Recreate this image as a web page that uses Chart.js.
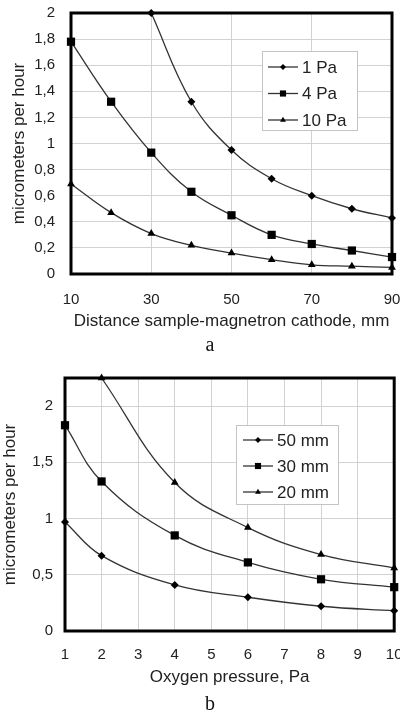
<!DOCTYPE html>
<html>
<head>
<meta charset="utf-8">
<script src="https://cdn.jsdelivr.net/npm/chart.js@4/dist/chart.umd.min.js"></script>
<style>
  html, body { margin: 0; padding: 0; background: #fff; }
  body { position: relative; width: 400px; height: 713px; overflow: hidden; }
  .panel { position: absolute; left: 0; width: 400px; }
  .caption {
    position: absolute; left: 0; width: 420px; text-align: center;
    font-family: "Liberation Serif", "Times New Roman", serif;
    font-size: 20px; line-height: 20px; color: #111;
  }
</style>
</head>
<body>
<div class="panel" style="top:0;height:334px"><canvas id="chart-distance" width="400" height="334"></canvas></div>
<div class="caption" style="top:334px">a</div>
<div class="panel" style="top:350px;height:340px"><canvas id="chart-pressure" width="400" height="340"></canvas></div>
<div class="caption" style="top:693px">b</div>

<script>
// panel a: deposition rate vs distance
const distances = [10, 20, 30, 40, 50, 60, 70, 80, 90];
const rate1Pa = [null, null, 2.0, 1.32, 0.95, 0.73, 0.6, 0.5, 0.43];
const rate4Pa = [1.78, 1.32, 0.93, 0.63, 0.45, 0.3, 0.23, 0.18, 0.13];
const rate10Pa = [0.69, 0.47, 0.31, 0.22, 0.16, 0.11, 0.07, 0.06, 0.05];
const xTicksA = [10, 30, 50, 70, 90];
const yTicksA = [0, 0.2, 0.4, 0.6, 0.8, 1, 1.2, 1.4, 1.6, 1.8, 2];

// panel b: deposition rate vs oxygen pressure
const pressures = [1, 2, 4, 6, 8, 10];
const rate50mm = [0.97, 0.67, 0.41, 0.3, 0.22, 0.18];
const rate30mm = [1.83, 1.33, 0.85, 0.61, 0.46, 0.39];
const rate20mm = [null, 2.25, 1.32, 0.92, 0.68, 0.56];
const xTicksB = [1, 2, 3, 4, 5, 6, 7, 8, 9, 10];
const yTicksB = [0, 0.5, 1, 1.5, 2];

Chart.defaults.font.family = "'Liberation Sans', Arial, sans-serif";
Chart.defaults.color = "#222";

const toPoints = (xs, ys) => xs.map((x, i) => ({ x: x, y: ys[i] }));
const comma = (v) => String(v).replace(".", ",");

// thick black frame around the plot area, under the markers
const framePlugin = {
  id: "frame",
  beforeDatasetsDraw(chart) {
    const a = chart.chartArea;
    const ctx = chart.ctx;
    ctx.save();
    ctx.strokeStyle = "#000";
    ctx.lineWidth = 3;
    ctx.strokeRect(a.left, a.top, a.right - a.left, a.bottom - a.top);
    ctx.restore();
  },
};

// boxed legend sitting inside the plot
const boxLegend = {
  id: "boxLegend",
  afterDatasetsDraw(chart, args, opts) {
    const ctx = chart.ctx;
    const left = opts.left, top = opts.top;
    ctx.save();
    ctx.fillStyle = "#fff";
    ctx.fillRect(left, top, opts.width, opts.height);
    ctx.strokeStyle = "#c4c4c4";
    ctx.lineWidth = 1;
    ctx.strokeRect(left + 0.5, top + 0.5, opts.width, opts.height);
    ctx.font = "17px 'Liberation Sans', Arial, sans-serif";
    ctx.textBaseline = "middle";
    chart.data.datasets.forEach(function (ds, i) {
      const y = top + opts.firstRow + i * opts.rowGap;
      const x0 = left + opts.lineStart;
      ctx.strokeStyle = ds.borderColor;
      ctx.lineWidth = ds.borderWidth;
      ctx.beginPath();
      ctx.moveTo(x0, y);
      ctx.lineTo(x0 + opts.lineLen, y);
      ctx.stroke();
      ctx.fillStyle = "#000";
      Chart.helpers.drawPoint(
        ctx,
        { pointStyle: ds.pointStyle, radius: ds.pointRadius * 0.75, borderWidth: 0, rotation: 0 },
        x0 + opts.lineLen / 2,
        y
      );
      ctx.fillStyle = "#222";
      ctx.fillText(ds.label, x0 + opts.lineLen + 4, y + 1);
    });
    ctx.restore();
  },
};

function series(label, pts, style, radius) {
  return {
    label: label,
    data: pts,
    borderColor: "#333",
    borderWidth: 1.3,
    pointStyle: style,
    pointRadius: radius,
    pointBackgroundColor: "#000",
    pointBorderColor: "#000",
    pointBorderWidth: 0,
    tension: 0.4,
    clip: false,
    spanGaps: false,
  };
}

function makeScales(cfg) {
  return {
    x: {
      type: "linear",
      min: cfg.xMin,
      max: cfg.xMax,
      afterBuildTicks: (s) => { s.ticks = cfg.xTicks.map((v) => ({ value: v })); },
      afterFit: (s) => { s.height = cfg.xHeight; s.paddingLeft = 0; s.paddingRight = 0; },
      grid: { color: "#d2d2d2", drawTicks: false },
      border: { display: false },
      ticks: { font: { size: 15 }, padding: cfg.xTickPad, maxRotation: 0, autoSkip: false, color: "#222" },
      title: { display: true, text: cfg.xTitle, font: { size: 17 }, padding: { top: 0, bottom: 2 }, color: "#222" },
    },
    y: {
      min: 0,
      max: cfg.yMax,
      afterBuildTicks: (s) => { s.ticks = cfg.yTicks.map((v) => ({ value: v })); },
      afterFit: (s) => { s.width = cfg.yWidth; s.paddingTop = 0; s.paddingBottom = 0; },
      grid: { color: "#d2d2d2", drawTicks: false },
      border: { display: false },
      ticks: { font: { size: 15 }, padding: cfg.yTickPad, callback: (v) => comma(v), color: "#222" },
      title: { display: true, text: "micrometers per hour", font: { size: 17 }, padding: { top: cfg.yTitlePad, bottom: 0 }, color: "#222" },
    },
  };
}

document.addEventListener("DOMContentLoaded", function () {
  new Chart(document.getElementById("chart-distance").getContext("2d"), {
    type: "line",
    data: {
      datasets: [
        series("1 Pa", toPoints(distances, rate1Pa), "rectRot", 4),
        series("4 Pa", toPoints(distances, rate4Pa), "rect", 5.8),
        series("10 Pa", toPoints(distances, rate10Pa), "triangle", 4.5),
      ],
    },
    options: {
      responsive: false,
      animation: false,
      layout: { padding: { top: 13, right: 8, left: 0, bottom: 0 } },
      plugins: {
        legend: { display: false },
        tooltip: { enabled: false },
        boxLegend: { left: 262, top: 51, width: 95, height: 79, firstRow: 16, rowGap: 26.5, lineStart: 6, lineLen: 30 },
      },
      scales: makeScales({
        xMin: 10, xMax: 90, xTicks: xTicksA, xHeight: 60, xTickPad: 17,
        xTitle: "Distance sample-magnetron cathode, mm",
        yMax: 2, yTicks: yTicksA, yWidth: 71, yTickPad: 16, yTitlePad: 9,
      }),
    },
    plugins: [framePlugin, boxLegend],
  });

  new Chart(document.getElementById("chart-pressure").getContext("2d"), {
    type: "line",
    data: {
      datasets: [
        series("50 mm", toPoints(pressures, rate50mm), "rectRot", 4),
        series("30 mm", toPoints(pressures, rate30mm), "rect", 5.8),
        series("20 mm", toPoints(pressures, rate20mm), "triangle", 4.5),
      ],
    },
    options: {
      responsive: false,
      animation: false,
      layout: { padding: { top: 28, right: 2, left: 0, bottom: 0 } },
      plugins: {
        legend: { display: false },
        tooltip: { enabled: false },
        boxLegend: { left: 236, top: 75, width: 102, height: 79, firstRow: 15, rowGap: 26, lineStart: 7, lineLen: 30 },
      },
      scales: makeScales({
        xMin: 1, xMax: 10, xTicks: xTicksB, xHeight: 59, xTickPad: 15,
        xTitle: "Oxygen pressure, Pa",
        yMax: 2.25, yTicks: yTicksB, yWidth: 65, yTickPad: 12, yTitlePad: 0,
      }),
    },
    plugins: [framePlugin, boxLegend],
  });
});
</script>
</body>
</html>
